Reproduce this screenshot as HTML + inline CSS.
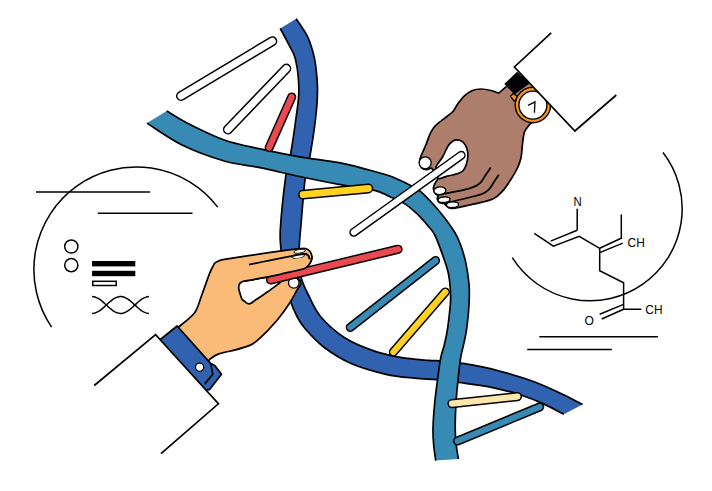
<!DOCTYPE html>
<html><head><meta charset="utf-8"><title>DNA</title>
<style>html,body{margin:0;padding:0;background:#fff;font-family:"Liberation Sans",sans-serif}svg{display:block}</style></head>
<body>
<svg width="712" height="491" viewBox="0 0 712 491">
<path d="M296.2 18.8 C298.0 21.6 304.4 30.3 307.2 35.8 C310.0 41.3 311.4 46.7 312.8 51.6 C314.2 56.5 314.8 58.6 315.6 65.0 C316.4 71.4 317.5 81.2 317.5 90.0 C317.5 98.8 316.9 107.0 315.6 118.0 C314.4 129.0 311.7 146.2 310.0 156.0 C308.3 165.8 306.9 165.0 305.3 177.0 C303.8 189.0 301.7 216.5 300.7 228.0 C299.7 239.5 299.5 239.8 299.3 246.0 C299.1 252.2 299.2 259.5 299.6 265.0 C300.0 270.5 300.1 274.0 301.6 279.0 C303.1 284.0 305.2 288.8 308.4 295.0 C311.5 301.2 314.5 309.4 320.5 316.5 C326.5 323.6 335.7 331.9 344.3 337.5 C352.9 343.1 363.0 347.1 372.4 350.4 C381.8 353.7 391.0 355.7 400.4 357.4 C409.8 359.1 421.5 359.8 428.5 360.4 C435.5 361.0 436.6 360.4 442.6 361.0 C448.6 361.6 455.3 362.1 464.6 363.7 C473.9 365.3 486.6 367.6 498.3 370.7 C510.0 373.8 524.0 378.0 534.8 382.0 C545.6 386.0 555.0 390.9 563.0 394.6 C571.0 398.4 579.3 402.9 582.6 404.5 L563.8 414.3 C560.3 412.5 550.2 406.8 543.0 403.6 C535.8 400.4 529.2 397.7 520.8 395.0 C512.4 392.3 503.0 389.7 492.7 387.6 C482.4 385.5 468.3 383.8 459.0 382.5 C449.7 381.2 444.4 380.4 437.0 379.7 C429.6 379.0 423.0 379.1 414.5 378.2 C406.0 377.3 396.5 376.7 386.0 374.3 C375.5 371.9 362.1 368.4 351.7 363.8 C341.2 359.2 331.1 352.6 323.3 346.7 C315.5 340.8 309.4 333.5 305.0 328.5 C300.6 323.5 299.6 321.6 297.0 316.5 C294.4 311.4 291.6 304.9 289.3 298.0 C287.1 291.1 284.9 283.0 283.5 275.0 C282.1 267.0 281.5 257.8 281.0 250.0 C280.5 242.2 279.6 240.6 280.4 228.0 C281.2 215.4 284.3 186.8 286.0 174.3 C287.7 161.8 289.1 162.4 290.8 153.0 C292.5 143.6 294.6 128.5 296.0 118.0 C297.4 107.5 299.0 99.8 298.9 90.0 C298.8 80.2 297.3 67.1 295.5 59.4 C293.7 51.7 290.9 48.9 288.3 43.7 C285.8 38.6 281.6 31.0 280.2 28.5Z" fill="#3062b0"/>
<path d="M296.2 18.8 C298.0 21.6 304.4 30.3 307.2 35.8 C310.0 41.3 311.4 46.7 312.8 51.6 C314.2 56.5 314.8 58.6 315.6 65.0 C316.4 71.4 317.5 81.2 317.5 90.0 C317.5 98.8 316.9 107.0 315.6 118.0 C314.4 129.0 311.7 146.2 310.0 156.0 C308.3 165.8 306.9 165.0 305.3 177.0 C303.8 189.0 301.7 216.5 300.7 228.0 C299.7 239.5 299.5 239.8 299.3 246.0 C299.1 252.2 299.2 259.5 299.6 265.0 C300.0 270.5 300.1 274.0 301.6 279.0 C303.1 284.0 305.2 288.8 308.4 295.0 C311.5 301.2 314.5 309.4 320.5 316.5 C326.5 323.6 335.7 331.9 344.3 337.5 C352.9 343.1 363.0 347.1 372.4 350.4 C381.8 353.7 391.0 355.7 400.4 357.4 C409.8 359.1 421.5 359.8 428.5 360.4 C435.5 361.0 436.6 360.4 442.6 361.0 C448.6 361.6 455.3 362.1 464.6 363.7 C473.9 365.3 486.6 367.6 498.3 370.7 C510.0 373.8 524.0 378.0 534.8 382.0 C545.6 386.0 555.0 390.9 563.0 394.6 C571.0 398.4 579.3 402.9 582.6 404.5" fill="none" stroke="#000" stroke-width="1.7"/>
<path d="M280.2 28.5 C281.6 31.0 285.8 38.6 288.3 43.7 C290.9 48.9 293.7 51.7 295.5 59.4 C297.3 67.1 298.8 80.2 298.9 90.0 C299.0 99.8 297.4 107.5 296.0 118.0 C294.6 128.5 292.5 143.6 290.8 153.0 C289.1 162.4 287.7 161.8 286.0 174.3 C284.3 186.8 281.2 215.4 280.4 228.0 C279.6 240.6 280.5 242.2 281.0 250.0 C281.5 257.8 282.1 267.0 283.5 275.0 C284.9 283.0 287.1 291.1 289.3 298.0 C291.6 304.9 294.4 311.4 297.0 316.5 C299.6 321.6 300.6 323.5 305.0 328.5 C309.4 333.5 315.5 340.8 323.3 346.7 C331.1 352.6 341.2 359.2 351.7 363.8 C362.1 368.4 375.5 371.9 386.0 374.3 C396.5 376.7 406.0 377.3 414.5 378.2 C423.0 379.1 429.6 379.0 437.0 379.7 C444.4 380.4 449.7 381.2 459.0 382.5 C468.3 383.8 482.4 385.5 492.7 387.6 C503.0 389.7 512.4 392.3 520.8 395.0 C529.2 397.7 535.8 400.4 543.0 403.6 C550.2 406.8 560.3 412.5 563.8 414.3" fill="none" stroke="#000" stroke-width="1.7"/>
<path d="M166.7 111.0 C170.6 113.2 180.4 119.7 190.0 124.5 C199.6 129.3 212.6 135.9 224.3 140.0 C236.0 144.1 247.5 146.1 260.0 148.9 C272.5 151.7 286.3 154.5 299.5 156.8 C312.7 159.1 327.4 160.5 339.0 162.7 C350.6 164.9 360.8 167.9 369.0 170.0 C377.2 172.1 383.2 173.8 388.4 175.5 C393.6 177.2 396.4 178.7 400.0 180.3 C403.6 181.9 406.6 183.4 410.0 185.2 C413.4 187.0 416.4 188.1 420.4 191.3 C424.3 194.6 429.6 200.2 433.7 204.7 C437.8 209.2 441.3 213.5 444.9 218.2 C448.4 222.9 452.3 228.2 455.0 232.8 C457.7 237.4 459.2 240.9 461.0 246.0 C462.8 251.1 464.6 257.0 465.9 263.2 C467.2 269.4 468.3 277.4 468.9 283.0 C469.5 288.6 469.4 292.2 469.3 297.0 C469.2 301.8 469.0 306.5 468.5 312.0 C468.0 317.5 467.3 324.5 466.5 330.0 C465.7 335.5 464.5 340.3 463.5 345.0 C462.5 349.7 461.5 352.2 460.6 358.0 C459.7 363.8 458.7 373.0 458.0 380.0 C457.3 387.0 456.7 392.0 456.2 400.0 C455.7 408.0 455.2 420.5 455.2 428.0 C455.2 435.5 455.8 439.8 456.3 445.0 C456.8 450.2 458.0 456.7 458.4 459.0 L435.7 460.6 C435.4 458.0 434.1 450.4 433.7 445.0 C433.2 439.6 432.8 435.5 433.0 428.0 C433.2 420.5 434.2 408.0 435.0 400.0 C435.8 392.0 436.6 387.0 437.5 380.0 C438.4 373.0 439.6 363.7 440.7 358.0 C441.8 352.3 442.9 350.5 444.0 346.0 C445.1 341.5 446.3 336.7 447.2 331.0 C448.1 325.3 449.0 317.7 449.6 312.0 C450.2 306.3 450.8 303.2 450.6 297.0 C450.5 290.8 449.9 281.6 448.7 275.0 C447.5 268.4 445.7 264.0 443.4 257.3 C441.1 250.6 437.4 240.2 434.8 235.0 C432.2 229.8 431.1 229.6 428.1 226.0 C425.1 222.4 420.8 217.4 416.9 213.7 C413.0 210.0 409.1 206.5 404.5 203.6 C399.9 200.7 394.4 198.7 389.4 196.5 C384.4 194.3 382.9 192.4 374.5 190.4 C366.1 188.4 351.5 186.7 339.0 184.4 C326.5 182.1 312.7 179.3 299.5 176.5 C286.3 173.7 272.5 170.3 260.0 167.7 C247.5 165.1 237.3 164.8 224.3 161.0 C211.3 157.2 194.9 151.3 182.0 145.0 C169.1 138.7 152.8 126.8 147.0 123.1Z" fill="#378ab4"/>
<path d="M166.7 111.0 C170.6 113.2 180.4 119.7 190.0 124.5 C199.6 129.3 212.6 135.9 224.3 140.0 C236.0 144.1 247.5 146.1 260.0 148.9 C272.5 151.7 286.3 154.5 299.5 156.8 C312.7 159.1 327.4 160.5 339.0 162.7 C350.6 164.9 360.8 167.9 369.0 170.0 C377.2 172.1 383.2 173.8 388.4 175.5 C393.6 177.2 396.4 178.7 400.0 180.3 C403.6 181.9 406.6 183.4 410.0 185.2 C413.4 187.0 416.4 188.1 420.4 191.3 C424.3 194.6 429.6 200.2 433.7 204.7 C437.8 209.2 441.3 213.5 444.9 218.2 C448.4 222.9 452.3 228.2 455.0 232.8 C457.7 237.4 459.2 240.9 461.0 246.0 C462.8 251.1 464.6 257.0 465.9 263.2 C467.2 269.4 468.3 277.4 468.9 283.0 C469.5 288.6 469.4 292.2 469.3 297.0 C469.2 301.8 469.0 306.5 468.5 312.0 C468.0 317.5 467.3 324.5 466.5 330.0 C465.7 335.5 464.5 340.3 463.5 345.0 C462.5 349.7 461.5 352.2 460.6 358.0 C459.7 363.8 458.7 373.0 458.0 380.0 C457.3 387.0 456.7 392.0 456.2 400.0 C455.7 408.0 455.2 420.5 455.2 428.0 C455.2 435.5 455.8 439.8 456.3 445.0 C456.8 450.2 458.0 456.7 458.4 459.0" fill="none" stroke="#000" stroke-width="1.7"/>
<path d="M147.0 123.1 C152.8 126.8 169.1 138.7 182.0 145.0 C194.9 151.3 211.3 157.2 224.3 161.0 C237.3 164.8 247.5 165.1 260.0 167.7 C272.5 170.3 286.3 173.7 299.5 176.5 C312.7 179.3 326.5 182.1 339.0 184.4 C351.5 186.7 366.1 188.4 374.5 190.4 C382.9 192.4 384.4 194.3 389.4 196.5 C394.4 198.7 399.9 200.7 404.5 203.6 C409.1 206.5 413.0 210.0 416.9 213.7 C420.8 217.4 425.1 222.4 428.1 226.0 C431.1 229.6 432.2 229.8 434.8 235.0 C437.4 240.2 441.1 250.6 443.4 257.3 C445.7 264.0 447.5 268.4 448.7 275.0 C449.9 281.6 450.5 290.8 450.6 297.0 C450.8 303.2 450.2 306.3 449.6 312.0 C449.0 317.7 448.1 325.3 447.2 331.0 C446.3 336.7 445.1 341.5 444.0 346.0 C442.9 350.5 441.8 352.3 440.7 358.0 C439.6 363.7 438.4 373.0 437.5 380.0 C436.6 387.0 435.8 392.0 435.0 400.0 C434.2 408.0 433.2 420.5 433.0 428.0 C432.8 435.5 433.2 439.6 433.7 445.0 C434.1 450.4 435.4 458.0 435.7 460.6" fill="none" stroke="#000" stroke-width="1.7"/>
<line x1="181.0" y1="96.0" x2="272.3" y2="41.2" stroke="#000" stroke-width="10.0" stroke-linecap="round"/>
<line x1="181.0" y1="96.0" x2="272.3" y2="41.2" stroke="#fff" stroke-width="7.0" stroke-linecap="round"/>
<line x1="227.9" y1="129.5" x2="286.3" y2="68.6" stroke="#000" stroke-width="10.0" stroke-linecap="round"/>
<line x1="227.9" y1="129.5" x2="286.3" y2="68.6" stroke="#fff" stroke-width="7.0" stroke-linecap="round"/>
<line x1="291.7" y1="97.0" x2="269.2" y2="147.6" stroke="#000" stroke-width="9.2" stroke-linecap="round"/>
<line x1="291.7" y1="97.0" x2="269.2" y2="147.6" stroke="#ea4a4f" stroke-width="6.2" stroke-linecap="round"/>
<line x1="303.0" y1="194.7" x2="368.4" y2="188.5" stroke="#000" stroke-width="9.8" stroke-linecap="round"/>
<line x1="303.0" y1="194.7" x2="368.4" y2="188.5" stroke="#ffd21f" stroke-width="6.8" stroke-linecap="round"/>
<line x1="350.3" y1="327.4" x2="435.5" y2="260.6" stroke="#000" stroke-width="9.2" stroke-linecap="round"/>
<line x1="350.3" y1="327.4" x2="435.5" y2="260.6" stroke="#378ab4" stroke-width="6.2" stroke-linecap="round"/>
<line x1="393.4" y1="352.0" x2="445.3" y2="292.0" stroke="#000" stroke-width="9.2" stroke-linecap="round"/>
<line x1="393.4" y1="352.0" x2="445.3" y2="292.0" stroke="#ffd21f" stroke-width="6.2" stroke-linecap="round"/>
<line x1="452.0" y1="403.6" x2="517.4" y2="396.6" stroke="#000" stroke-width="9.2" stroke-linecap="round"/>
<line x1="452.0" y1="403.6" x2="517.4" y2="396.6" stroke="#fbe7aa" stroke-width="6.2" stroke-linecap="round"/>
<line x1="457.6" y1="441.0" x2="539.6" y2="407.0" stroke="#000" stroke-width="9.2" stroke-linecap="round"/>
<line x1="457.6" y1="441.0" x2="539.6" y2="407.0" stroke="#378ab4" stroke-width="6.2" stroke-linecap="round"/>
<g fill="none" stroke="#000" stroke-width="1.5">
<path d="M51.6 327.1 A102.5 102.5 0 0 1 217.7 207.1"/>
<path d="M36 192.1H150M97.8 213.2H192.5"/>
<circle cx="71.3" cy="246.5" r="6.6"/><circle cx="71.3" cy="265.2" r="6.6"/>
<rect x="92.8" y="281.3" width="23.4" height="4.2"/>
<path d="M92.1 313.4 L93.6 313.3 L95.0 313.0 L96.5 312.4 L97.9 311.7 L99.4 310.8 L100.9 309.8 L102.3 308.6 L103.8 307.4 L105.2 306.0 L106.7 304.7 L108.1 303.3 L109.6 302.0 L111.1 300.8 L112.5 299.7 L114.0 298.7 L115.4 297.9 L116.9 297.3 L118.4 296.9 L119.8 296.6 L121.3 296.6 L122.7 296.8 L124.2 297.3 L125.7 297.9 L127.1 298.7 L128.6 299.6 L130.0 300.7 L131.5 302.0 L133.0 303.3 L134.4 304.6 L135.9 305.9 L137.3 307.3 L138.8 308.5 L140.2 309.7 L141.7 310.8 L143.2 311.7 L144.6 312.4 L146.1 312.9 L147.5 313.3 L149.0 313.4"/>
<path d="M92.1 296.6 L93.6 296.7 L95.0 297.0 L96.5 297.6 L97.9 298.3 L99.4 299.2 L100.9 300.2 L102.3 301.4 L103.8 302.6 L105.2 304.0 L106.7 305.3 L108.1 306.7 L109.6 308.0 L111.1 309.2 L112.5 310.3 L114.0 311.3 L115.4 312.1 L116.9 312.7 L118.4 313.1 L119.8 313.4 L121.3 313.4 L122.7 313.2 L124.2 312.7 L125.7 312.1 L127.1 311.3 L128.6 310.4 L130.0 309.3 L131.5 308.0 L133.0 306.7 L134.4 305.4 L135.9 304.1 L137.3 302.7 L138.8 301.5 L140.2 300.3 L141.7 299.2 L143.2 298.3 L144.6 297.6 L146.1 297.1 L147.5 296.7 L149.0 296.6"/>
<path d="M663.0 152.5 A92.0 92.0 0 1 1 512.3 257.7"/>
<path d="M539.3 336.7H657.9M527.2 349.4H611.8"/>
<path d="M577.2 208.8V230.2 M534.3 233.3L553.4 246.2L579.2 236.3L599.7 248.3 M550.6 241.1L577.2 230.2 M599.7 248.3L622.2 237.8 M599.7 252.6L622.8 243.1 M621.3 214.4V237.8 M599.7 248.3V270.7L623.6 282.8V309.2H641.3 M623.6 304.4L599.7 314.3 M623.6 309.2L601.7 319"/>
</g>
<rect x="92.1" y="261" width="43.2" height="5.4" fill="#000"/><rect x="92.1" y="270.8" width="43.2" height="5.4" fill="#000"/>
<g font-family="Liberation Sans, sans-serif" font-size="13.5" fill="#000">
<text x="573.4" y="206" textLength="8.2" lengthAdjust="spacingAndGlyphs">N</text><text x="627.6" y="246.8" textLength="17.2" lengthAdjust="spacingAndGlyphs">CH</text><text x="645.3" y="314" textLength="17.2" lengthAdjust="spacingAndGlyphs">CH</text><text x="584.6" y="324.6" textLength="9.4" lengthAdjust="spacingAndGlyphs">O</text>
</g>
<path d="M506.0 86.8 L498.7 93.1 C497.4 92.7 494.1 91.2 491.1 90.5 C488.2 89.8 484.1 89.0 481.0 89.0 C477.9 89.0 475.3 89.3 472.5 90.5 C469.7 91.7 466.6 93.8 464.1 96.1 C461.6 98.4 459.1 102.1 457.3 104.6 C455.5 107.1 455.4 108.9 453.1 111.3 C450.9 113.7 446.8 116.5 443.8 118.9 C440.9 121.3 437.6 123.3 435.4 125.7 C433.1 128.1 431.9 130.2 430.3 133.3 C428.8 136.4 427.7 140.5 426.1 144.3 C424.6 148.1 422.1 153.2 421.0 156.1 C419.9 159.0 419.4 160.1 419.5 162.0 C419.6 163.9 420.5 166.5 421.7 167.8 C422.9 169.1 425.0 169.6 426.7 169.6 C428.4 169.6 430.8 168.3 431.6 168.0 L438.5 177.7 C437.9 178.8 435.5 182.3 434.6 184.2 C433.8 186.1 433.2 187.4 433.4 189.1 C433.6 190.8 435.1 193.3 436.0 194.3 C436.9 195.3 438.1 195.0 438.5 195.2 C438.3 195.8 437.1 197.7 437.3 199.0 C437.6 200.3 438.8 202.1 440.0 202.8 C441.2 203.6 443.7 203.4 444.4 203.5 C444.8 203.9 445.2 205.0 446.5 205.8 C447.8 206.6 447.9 208.8 452.3 208.5 C456.7 208.2 466.4 205.8 473.1 204.2 C479.9 202.6 487.9 201.2 492.8 199.0 C497.7 196.8 499.5 194.4 502.5 191.1 C505.5 187.8 508.5 183.2 511.0 179.3 C513.5 175.4 516.0 171.2 517.7 167.5 C519.4 163.8 520.3 161.2 521.1 157.3 C521.9 153.4 521.9 148.0 522.5 143.8 C523.1 139.6 523.3 135.2 524.5 132.0 C525.7 128.8 528.8 125.7 529.6 124.4 L548.0 108.0 L536.0 86.0 L522.0 77.0 L508.0 85.0 L506.0 86.8Z" fill="#ad7e6b" stroke="#000" stroke-width="1.7" stroke-linejoin="round"/>
<path d="M439.5 194.8 C441.2 194.4 446.2 193.3 450.0 192.6 C453.8 191.8 458.0 191.2 462.0 190.3 C466.0 189.4 470.7 188.2 473.8 186.9 C476.9 185.6 478.6 184.7 480.6 182.7 C482.6 180.7 483.9 177.5 485.6 175.0 C487.3 172.5 489.9 168.8 490.7 167.5" fill="none" stroke="#000" stroke-width="1.7"/>
<path d="M444.4 203.3 C447.9 202.5 458.9 200.1 465.2 198.5 C471.5 196.9 478.0 195.5 482.0 194.0 C486.0 192.5 487.0 191.4 489.0 189.4 C491.0 187.4 492.5 184.2 494.1 181.8 C495.7 179.4 498.0 175.9 498.8 174.7" fill="none" stroke="#000" stroke-width="1.7"/>
<path d="M435.8 167.6 C436.6 164.0 440.5 160.7 442.6 157.0 C444.7 153.3 446.5 148.3 448.2 145.7 C449.9 143.1 451.2 142.2 452.7 141.2 C454.2 140.2 455.5 139.8 457.2 139.9 C458.9 140.0 461.2 140.5 462.8 141.8 C464.4 143.2 465.9 145.7 466.7 148.0 C467.5 150.3 468.0 153.0 467.9 155.8 C467.8 158.6 467.0 162.3 466.2 164.8 C465.4 167.3 464.3 169.5 462.8 171.0 C461.3 172.5 459.8 173.0 457.2 173.8 C454.6 174.7 450.3 175.3 447.1 176.1 C443.9 176.8 440.0 179.7 438.1 178.3 C436.2 176.9 435.1 171.2 435.8 167.6Z" fill="#fff" stroke="#000" stroke-width="1.7"/>
<circle cx="425.2" cy="162.8" r="6" fill="#fff" stroke="#000" stroke-width="1.3"/>
<ellipse cx="439.9" cy="190.7" rx="6.0" ry="3.8" transform="rotate(-6 439.9 190.7)" fill="#fff" stroke="#000" stroke-width="1.3"/>
<ellipse cx="444.0" cy="199.7" rx="6.0" ry="2.7" transform="rotate(-5 444.0 199.7)" fill="#fff" stroke="#000" stroke-width="1.3"/>
<ellipse cx="452.5" cy="204.7" rx="6.0" ry="2.8" transform="rotate(-3 452.5 204.7)" fill="#fff" stroke="#000" stroke-width="1.3"/>
<path d="M504.3 84.1 L517.1 71.8 L529.5 83.5 L514.5 94.5Z" fill="#000"/>
<path d="M510.5 96.3 L513.6 93.4 L518.5 97.5 L514.2 101.2Z" fill="#f7941d" stroke="#000" stroke-width="1.3"/>
<circle cx="532.9" cy="105.1" r="17.7" fill="#f7941d" stroke="#000" stroke-width="1.4"/>
<circle cx="532.9" cy="105.1" r="14" fill="#fff" stroke="#000" stroke-width="1.4"/>
<path d="M528.1 105.3L535 101.8L534.4 112.8" fill="none" stroke="#000" stroke-width="1.3"/>
<path d="M551.2 32.9 L514.4 67.0 L574.9 131.0 L616.3 95.0Z" fill="#fff" stroke="none"/>
<path d="M551.2 32.9 L514.4 67.0 L574.9 131.0 L616.3 95.0" fill="none" stroke="#000" stroke-width="1.7"/>
<line x1="353.8" y1="232.3" x2="461.2" y2="155.3" stroke="#000" stroke-width="9.0" stroke-linecap="round"/>
<line x1="353.8" y1="232.3" x2="461.2" y2="155.3" stroke="#fff" stroke-width="6.0" stroke-linecap="round"/>
<path d="M290.6 277.4 C291.9 277.7 296.8 278.1 298.5 279.2 C300.2 280.3 300.7 282.6 300.7 284.0 C300.7 285.4 299.1 286.6 298.5 287.6 C297.9 288.6 298.3 287.7 296.9 290.2 C295.5 292.7 293.0 297.8 290.0 302.5 C287.0 307.2 282.5 313.6 278.7 318.3 C274.9 323.0 271.1 327.0 267.4 330.9 C263.6 334.8 259.2 338.9 256.2 341.4 C253.2 343.8 252.7 344.2 249.2 345.6 C245.7 347.0 240.2 348.5 235.1 349.9 C229.9 351.3 222.4 352.6 218.3 354.1 C214.2 355.6 211.6 358.0 210.3 358.8 L204.0 366.0 L173.0 332.0 L179.8 326.0 C182.3 323.8 191.2 317.6 194.8 312.5 C198.5 307.4 199.2 301.7 201.7 295.2 C204.2 288.7 207.7 278.3 209.6 273.4 C211.5 268.5 212.6 267.1 213.2 265.8 C213.4 265.4 214.0 264.0 214.6 263.4 C215.2 262.8 215.8 262.4 216.6 261.9 C217.4 261.4 219.0 260.8 219.5 260.6 C220.3 260.4 217.8 260.5 224.4 259.4 C231.0 258.3 248.0 255.7 259.0 254.1 C270.0 252.5 283.6 250.6 290.6 249.7 C297.6 248.8 298.4 248.8 301.0 248.6 C303.6 248.4 304.7 248.2 306.2 248.7 C307.7 249.2 309.2 250.3 310.1 251.6 C311.1 252.9 311.7 254.8 311.9 256.3 C312.1 257.8 311.8 259.3 311.2 260.8 C310.6 262.3 309.6 264.0 308.4 265.3 C307.2 266.6 306.9 266.7 303.9 268.7 C300.9 270.7 292.8 275.9 290.6 277.4Z" fill="#fbbb78" stroke="#000" stroke-width="1.7" stroke-linejoin="round"/>
<path d="M244.1 281.1 L266.6 277.2 L288.0 274.0 L280.0 282.8 C277.9 284.3 271.9 288.8 267.7 291.8 C263.4 294.8 256.7 299.3 254.5 300.8 C254.0 301.1 252.4 302.4 251.5 302.9 C250.6 303.4 249.8 303.8 249.0 303.8 C248.2 303.8 247.2 303.4 246.4 302.9 C245.7 302.4 244.8 301.3 244.5 301.0 C244.1 300.7 242.8 300.9 241.9 299.1 C241.0 297.3 239.5 291.6 239.0 290.1 C238.9 289.6 238.6 288.0 238.7 287.0 C238.8 286.0 238.9 285.1 239.3 284.3 C239.7 283.5 240.5 282.7 241.3 282.2 C242.1 281.7 243.6 281.3 244.1 281.1Z" fill="#fff" stroke="#000" stroke-width="1.7" stroke-linejoin="round"/>
<path d="M249.1 264.6 C252.6 263.9 262.7 261.8 270.0 260.3 C277.3 258.8 287.2 256.8 292.7 255.8 C298.2 254.8 300.8 254.5 303.0 254.2 C305.2 253.9 305.3 253.8 306.2 254.1 C307.1 254.4 307.8 255.0 308.4 255.8 C309.0 256.7 309.4 258.6 309.6 259.2" fill="none" stroke="#000" stroke-width="1.7"/>
<ellipse cx="299.6" cy="251.3" rx="5.8" ry="1.8" transform="rotate(-8 299.6 251.3)" fill="#fff" stroke="#000" stroke-width="0.9"/>
<ellipse cx="298.3" cy="256.5" rx="6.3" ry="1.8" transform="rotate(-8 298.3 256.5)" fill="#fff" stroke="#000" stroke-width="0.9"/>
<circle cx="293.8" cy="282.9" r="5.3" fill="#fff" stroke="#000" stroke-width="1.3"/>
<line x1="270.6" y1="279.9" x2="398.0" y2="249.3" stroke="#000" stroke-width="9.3" stroke-linecap="round"/>
<line x1="270.6" y1="279.9" x2="398.0" y2="249.3" stroke="#ea4a4f" stroke-width="6.3" stroke-linecap="round"/>
<path d="M244.1 281.1L266.6 277.2L303.9 268.7L308.4 265.3L311.2 260.8L306 257L250 266Z" fill="#fbbb78"/>
<path d="M244.1 281.1 C247.8 280.5 259.8 278.5 266.6 277.2 C273.4 275.9 278.8 274.6 285.0 273.2 C291.2 271.8 300.0 270.0 303.9 268.7 C307.8 267.4 307.2 266.6 308.4 265.3 C309.6 264.0 310.6 262.3 311.2 260.8 C311.8 259.3 311.8 257.1 311.9 256.3" fill="none" stroke="#000" stroke-width="1.7"/>
<path d="M292.7 255.8 C294.4 255.5 300.8 254.5 303.0 254.2 C305.2 253.9 305.3 253.8 306.2 254.1 C307.1 254.4 307.8 255.0 308.4 255.8 C309.0 256.7 309.4 258.6 309.6 259.2" fill="none" stroke="#000" stroke-width="1.7"/>
<path d="M158.5 341.0 L177.1 326.0 L210.8 363.6 L215.0 365.8 L221.5 374.3 L209.4 389.7 L202.0 390.0Z" fill="#3062b0" stroke="#000" stroke-width="1.7" stroke-linejoin="round"/>
<path d="M210.8 363.6L212.7 374.3L204.6 384.1" fill="none" stroke="#000" stroke-width="1.7"/>
<circle cx="199.6" cy="367.2" r="4.1" fill="#fff" stroke="#000" stroke-width="1.3"/>
<path d="M94.2 385.5 L155.6 334.6 L218.4 403.8 L161.0 453.6Z" fill="#fff"/>
<path d="M94.2 385.5 L155.6 334.6 L218.4 403.8 L161.0 453.6" fill="none" stroke="#000" stroke-width="1.7"/>
</svg>
</body></html>
